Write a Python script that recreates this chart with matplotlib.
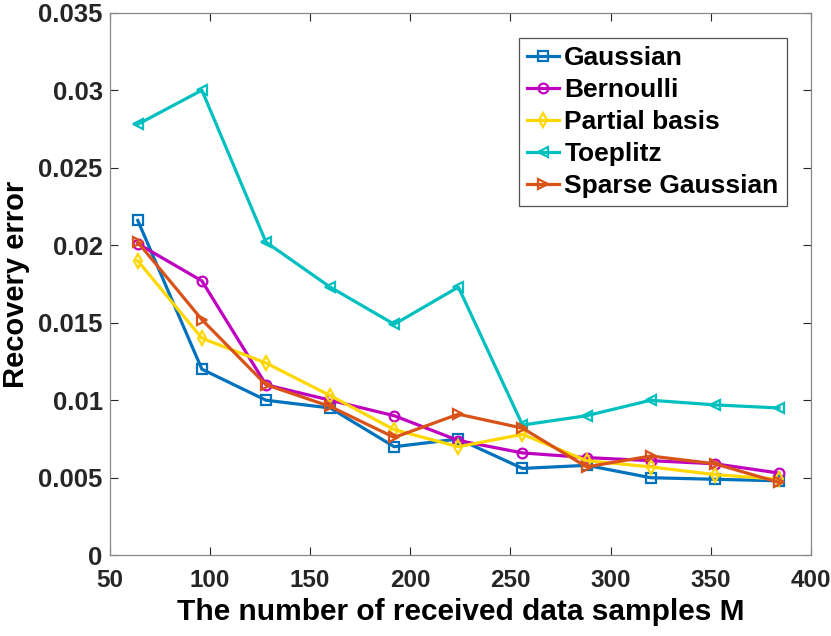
import matplotlib
matplotlib.use('Agg')
import matplotlib.pyplot as plt

M = [64, 96, 128, 160, 192, 224, 256, 288, 320, 352, 384]

gaussian = [0.0216, 0.0120, 0.0100, 0.0095, 0.0070, 0.0075, 0.0056, 0.0058, 0.0050, 0.0049, 0.0048]
bernoulli = [0.0201, 0.0177, 0.0110, 0.0100, 0.0090, 0.0074, 0.0066, 0.0063, 0.0061, 0.0059, 0.0053]
partial = [0.0190, 0.0140, 0.0124, 0.0103, 0.0081, 0.0070, 0.0078, 0.0061, 0.0057, 0.0052, 0.0049]
toeplitz = [0.0278, 0.0300, 0.0202, 0.0173, 0.0149, 0.0173, 0.0084, 0.0090, 0.0100, 0.0097, 0.0095]
sparse_gauss = [0.0202, 0.0152, 0.0110, 0.0096, 0.0076, 0.0091, 0.0082, 0.0057, 0.0064, 0.0059, 0.0047]

plt.rcParams['font.family'] = ['Liberation Sans', 'DejaVu Sans']
plt.rcParams['font.weight'] = 'bold'

fig = plt.figure(figsize=(8.31, 6.36), dpi=100)
ax = fig.add_axes([0.132, 0.127, 0.844, 0.853])

series = [
    (gaussian, 'Gaussian', '#0072BD', 's'),
    (bernoulli, 'Bernoulli', '#BF00BF', 'o'),
    (partial, 'Partial basis', '#FFD700', 'd'),
    (toeplitz, 'Toeplitz', '#00BFBF', '<'),
    (sparse_gauss, 'Sparse Gaussian', '#D95319', '>'),
]
for ys, name, col, mk in series:
    ax.plot(M, ys, color=col, marker=mk, linewidth=2.3, markersize=7,
            markerfacecolor='none', markeredgewidth=1.6, label=name)

ax.set_xlim(50, 400)
ax.set_ylim(0, 0.035)
ax.set_xticks([50, 100, 150, 200, 250, 300, 350, 400])
ax.set_yticks([0, 0.005, 0.01, 0.015, 0.02, 0.025, 0.03, 0.035])
ax.set_yticklabels(['0', '0.005', '0.01', '0.015', '0.02', '0.025', '0.03', '0.035'])
ax.tick_params(direction='in', top=True, right=True, length=6,
               color='#262626', labelcolor='#262626')
ax.tick_params(axis='x', pad=10, labelsize=17.5)
ax.tick_params(axis='y', pad=5, labelsize=18.5)
for s in ax.spines.values():
    s.set_color('#888888')
    s.set_linewidth(0.9)

ax.set_xlabel('The number of received data samples M', fontsize=21.5, fontweight='bold', labelpad=4)
ax.set_ylabel('Recovery error', fontsize=21, fontweight='bold', labelpad=6)

leg = ax.legend(loc='upper right', bbox_to_anchor=(0.965, 0.953),
                fancybox=False, edgecolor='#262626', handlelength=1.2,
                handletextpad=0.2, borderpad=0.3, borderaxespad=0,
                labelspacing=0.3, prop={'weight': 'bold', 'size': 19})
leg.get_frame().set_linewidth(0.9)

fig.savefig('out.png', dpi=100)
